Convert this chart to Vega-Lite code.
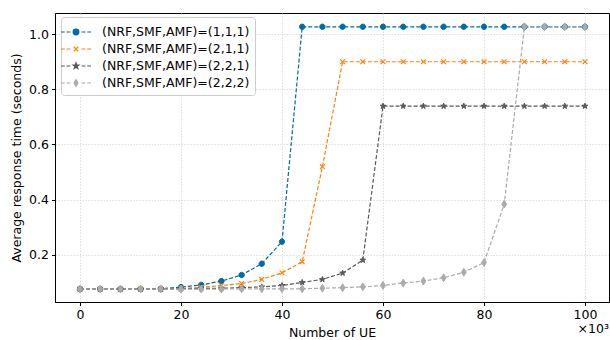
{
  "$schema": "https://vega.github.io/schema/vega-lite/v6.json",
  "width": 554,
  "height": 289,
  "autosize": "none",
  "padding": {"left": 55, "top": 13, "right": 1, "bottom": 38},
  "config": {
    "font": "DejaVu Sans",
    "view": {"stroke": "#000", "strokeWidth": 1},
    "axis": {
      "labelFont": "DejaVu Sans", "labelFontSize": 12.5, "labelColor": "#000",
      "titleFont": "DejaVu Sans", "titleFontSize": 12.5, "titleFontWeight": "normal", "titleColor": "#000",
      "domainColor": "#000", "tickColor": "#000", "tickSize": 3.5, "labelPadding": 3,
      "gridColor": "#d6d6d6", "gridDash": [1.5, 1.5], "gridWidth": 0.8
    },
    "title": {"font": "DejaVu Sans", "fontSize": 12.5, "fontWeight": "normal", "color": "#000"}
  },
  "title": {"text": "×10³", "orient": "bottom", "anchor": "end", "offset": -16},
  "data": {"values": [
    {"x":0,"y":0.075,"s":"(NRF,SMF,AMF)=(1,1,1)"},{"x":4,"y":0.075,"s":"(NRF,SMF,AMF)=(1,1,1)"},{"x":8,"y":0.075,"s":"(NRF,SMF,AMF)=(1,1,1)"},{"x":12,"y":0.075,"s":"(NRF,SMF,AMF)=(1,1,1)"},{"x":16,"y":0.076,"s":"(NRF,SMF,AMF)=(1,1,1)"},{"x":20,"y":0.082,"s":"(NRF,SMF,AMF)=(1,1,1)"},{"x":24,"y":0.09,"s":"(NRF,SMF,AMF)=(1,1,1)"},{"x":28,"y":0.104,"s":"(NRF,SMF,AMF)=(1,1,1)"},{"x":32,"y":0.126,"s":"(NRF,SMF,AMF)=(1,1,1)"},{"x":36,"y":0.167,"s":"(NRF,SMF,AMF)=(1,1,1)"},{"x":40,"y":0.247,"s":"(NRF,SMF,AMF)=(1,1,1)"},{"x":44,"y":1.027,"s":"(NRF,SMF,AMF)=(1,1,1)"},{"x":48,"y":1.027,"s":"(NRF,SMF,AMF)=(1,1,1)"},{"x":52,"y":1.027,"s":"(NRF,SMF,AMF)=(1,1,1)"},{"x":56,"y":1.027,"s":"(NRF,SMF,AMF)=(1,1,1)"},{"x":60,"y":1.027,"s":"(NRF,SMF,AMF)=(1,1,1)"},{"x":64,"y":1.027,"s":"(NRF,SMF,AMF)=(1,1,1)"},{"x":68,"y":1.027,"s":"(NRF,SMF,AMF)=(1,1,1)"},{"x":72,"y":1.027,"s":"(NRF,SMF,AMF)=(1,1,1)"},{"x":76,"y":1.027,"s":"(NRF,SMF,AMF)=(1,1,1)"},{"x":80,"y":1.027,"s":"(NRF,SMF,AMF)=(1,1,1)"},{"x":84,"y":1.027,"s":"(NRF,SMF,AMF)=(1,1,1)"},{"x":88,"y":1.027,"s":"(NRF,SMF,AMF)=(1,1,1)"},{"x":92,"y":1.027,"s":"(NRF,SMF,AMF)=(1,1,1)"},{"x":96,"y":1.027,"s":"(NRF,SMF,AMF)=(1,1,1)"},{"x":100,"y":1.027,"s":"(NRF,SMF,AMF)=(1,1,1)"},
    {"x":0,"y":0.075,"s":"(NRF,SMF,AMF)=(2,1,1)"},{"x":4,"y":0.075,"s":"(NRF,SMF,AMF)=(2,1,1)"},{"x":8,"y":0.075,"s":"(NRF,SMF,AMF)=(2,1,1)"},{"x":12,"y":0.075,"s":"(NRF,SMF,AMF)=(2,1,1)"},{"x":16,"y":0.075,"s":"(NRF,SMF,AMF)=(2,1,1)"},{"x":20,"y":0.077,"s":"(NRF,SMF,AMF)=(2,1,1)"},{"x":24,"y":0.081,"s":"(NRF,SMF,AMF)=(2,1,1)"},{"x":28,"y":0.088,"s":"(NRF,SMF,AMF)=(2,1,1)"},{"x":32,"y":0.095,"s":"(NRF,SMF,AMF)=(2,1,1)"},{"x":36,"y":0.11,"s":"(NRF,SMF,AMF)=(2,1,1)"},{"x":40,"y":0.134,"s":"(NRF,SMF,AMF)=(2,1,1)"},{"x":44,"y":0.174,"s":"(NRF,SMF,AMF)=(2,1,1)"},{"x":48,"y":0.519,"s":"(NRF,SMF,AMF)=(2,1,1)"},{"x":52,"y":0.9,"s":"(NRF,SMF,AMF)=(2,1,1)"},{"x":56,"y":0.9,"s":"(NRF,SMF,AMF)=(2,1,1)"},{"x":60,"y":0.9,"s":"(NRF,SMF,AMF)=(2,1,1)"},{"x":64,"y":0.9,"s":"(NRF,SMF,AMF)=(2,1,1)"},{"x":68,"y":0.9,"s":"(NRF,SMF,AMF)=(2,1,1)"},{"x":72,"y":0.9,"s":"(NRF,SMF,AMF)=(2,1,1)"},{"x":76,"y":0.9,"s":"(NRF,SMF,AMF)=(2,1,1)"},{"x":80,"y":0.9,"s":"(NRF,SMF,AMF)=(2,1,1)"},{"x":84,"y":0.9,"s":"(NRF,SMF,AMF)=(2,1,1)"},{"x":88,"y":0.9,"s":"(NRF,SMF,AMF)=(2,1,1)"},{"x":92,"y":0.9,"s":"(NRF,SMF,AMF)=(2,1,1)"},{"x":96,"y":0.9,"s":"(NRF,SMF,AMF)=(2,1,1)"},{"x":100,"y":0.9,"s":"(NRF,SMF,AMF)=(2,1,1)"},
    {"x":0,"y":0.075,"s":"(NRF,SMF,AMF)=(2,2,1)"},{"x":4,"y":0.075,"s":"(NRF,SMF,AMF)=(2,2,1)"},{"x":8,"y":0.075,"s":"(NRF,SMF,AMF)=(2,2,1)"},{"x":12,"y":0.075,"s":"(NRF,SMF,AMF)=(2,2,1)"},{"x":16,"y":0.075,"s":"(NRF,SMF,AMF)=(2,2,1)"},{"x":20,"y":0.076,"s":"(NRF,SMF,AMF)=(2,2,1)"},{"x":24,"y":0.077,"s":"(NRF,SMF,AMF)=(2,2,1)"},{"x":28,"y":0.078,"s":"(NRF,SMF,AMF)=(2,2,1)"},{"x":32,"y":0.08,"s":"(NRF,SMF,AMF)=(2,2,1)"},{"x":36,"y":0.083,"s":"(NRF,SMF,AMF)=(2,2,1)"},{"x":40,"y":0.088,"s":"(NRF,SMF,AMF)=(2,2,1)"},{"x":44,"y":0.099,"s":"(NRF,SMF,AMF)=(2,2,1)"},{"x":48,"y":0.11,"s":"(NRF,SMF,AMF)=(2,2,1)"},{"x":52,"y":0.133,"s":"(NRF,SMF,AMF)=(2,2,1)"},{"x":56,"y":0.18,"s":"(NRF,SMF,AMF)=(2,2,1)"},{"x":60,"y":0.739,"s":"(NRF,SMF,AMF)=(2,2,1)"},{"x":64,"y":0.739,"s":"(NRF,SMF,AMF)=(2,2,1)"},{"x":68,"y":0.739,"s":"(NRF,SMF,AMF)=(2,2,1)"},{"x":72,"y":0.739,"s":"(NRF,SMF,AMF)=(2,2,1)"},{"x":76,"y":0.739,"s":"(NRF,SMF,AMF)=(2,2,1)"},{"x":80,"y":0.739,"s":"(NRF,SMF,AMF)=(2,2,1)"},{"x":84,"y":0.739,"s":"(NRF,SMF,AMF)=(2,2,1)"},{"x":88,"y":0.739,"s":"(NRF,SMF,AMF)=(2,2,1)"},{"x":92,"y":0.739,"s":"(NRF,SMF,AMF)=(2,2,1)"},{"x":96,"y":0.739,"s":"(NRF,SMF,AMF)=(2,2,1)"},{"x":100,"y":0.739,"s":"(NRF,SMF,AMF)=(2,2,1)"},
    {"x":0,"y":0.075,"s":"(NRF,SMF,AMF)=(2,2,2)"},{"x":4,"y":0.075,"s":"(NRF,SMF,AMF)=(2,2,2)"},{"x":8,"y":0.075,"s":"(NRF,SMF,AMF)=(2,2,2)"},{"x":12,"y":0.075,"s":"(NRF,SMF,AMF)=(2,2,2)"},{"x":16,"y":0.075,"s":"(NRF,SMF,AMF)=(2,2,2)"},{"x":20,"y":0.075,"s":"(NRF,SMF,AMF)=(2,2,2)"},{"x":24,"y":0.075,"s":"(NRF,SMF,AMF)=(2,2,2)"},{"x":28,"y":0.075,"s":"(NRF,SMF,AMF)=(2,2,2)"},{"x":32,"y":0.076,"s":"(NRF,SMF,AMF)=(2,2,2)"},{"x":36,"y":0.076,"s":"(NRF,SMF,AMF)=(2,2,2)"},{"x":40,"y":0.076,"s":"(NRF,SMF,AMF)=(2,2,2)"},{"x":44,"y":0.076,"s":"(NRF,SMF,AMF)=(2,2,2)"},{"x":48,"y":0.078,"s":"(NRF,SMF,AMF)=(2,2,2)"},{"x":52,"y":0.08,"s":"(NRF,SMF,AMF)=(2,2,2)"},{"x":56,"y":0.083,"s":"(NRF,SMF,AMF)=(2,2,2)"},{"x":60,"y":0.088,"s":"(NRF,SMF,AMF)=(2,2,2)"},{"x":64,"y":0.097,"s":"(NRF,SMF,AMF)=(2,2,2)"},{"x":68,"y":0.104,"s":"(NRF,SMF,AMF)=(2,2,2)"},{"x":72,"y":0.116,"s":"(NRF,SMF,AMF)=(2,2,2)"},{"x":76,"y":0.136,"s":"(NRF,SMF,AMF)=(2,2,2)"},{"x":80,"y":0.171,"s":"(NRF,SMF,AMF)=(2,2,2)"},{"x":84,"y":0.383,"s":"(NRF,SMF,AMF)=(2,2,2)"},{"x":88,"y":1.027,"s":"(NRF,SMF,AMF)=(2,2,2)"},{"x":92,"y":1.027,"s":"(NRF,SMF,AMF)=(2,2,2)"},{"x":96,"y":1.027,"s":"(NRF,SMF,AMF)=(2,2,2)"},{"x":100,"y":1.027,"s":"(NRF,SMF,AMF)=(2,2,2)"}
  ]},
  "encoding": {
    "x": {"field": "x", "type": "quantitative", "title": "Number of UE",
      "scale": {"domain": [-4.95, 104.75], "nice": false, "zero": false},
      "axis": {"values": [0, 20, 40, 60, 80, 100], "titlePadding": 5}},
    "y": {"field": "y", "type": "quantitative", "title": "Average response time (seconds)",
      "scale": {"domain": [0.028, 1.077], "nice": false, "zero": false},
      "axis": {"values": [0.2, 0.4, 0.6, 0.8, 1.0], "format": ".1f", "titlePadding": 5}}
  },
  "layer": [
    {
      "mark": {"type": "line", "strokeDash": [4, 2], "strokeWidth": 1.2},
      "encoding": {
        "color": {"field": "s", "type": "nominal",
          "scale": {"domain": ["(NRF,SMF,AMF)=(1,1,1)", "(NRF,SMF,AMF)=(2,1,1)", "(NRF,SMF,AMF)=(2,2,1)", "(NRF,SMF,AMF)=(2,2,2)"],
                    "range": ["#006BA4", "#FF800E", "#595959", "#ABABAB"]},
          "legend": {"title": null, "orient": "none", "legendX": 6, "legendY": 4,
            "labelFont": "DejaVu Sans", "labelFontSize": 12.5, "labelColor": "#000",
            "symbolSize": 324, "labelOffset": 16, "rowPadding": 0, "padding": 5,
            "fillColor": "#ffffff", "strokeColor": "#cccccc", "cornerRadius": 3,
            "symbolStrokeWidth": 1.2,
            "encode": {"symbols": {"update": {
              "shape": {"signal": "['M-1.667,0H-1.25M-1.05,0H-0.63M0.63,0H1.05M1.25,0H1.667M0.32,0A0.32,0.32,0,1,1,-0.32,0A0.32,0.32,0,1,1,0.32,0Z','M-1.667,0H-1.25M-1.05,0H-0.63M0.63,0H1.05M1.25,0H1.667M-0.25,-0.25L0.25,0.25M-0.25,0.25L0.25,-0.25','M-1.667,0H-1.25M-1.05,0H-0.63M0.63,0H1.05M1.25,0H1.667M0,-0.34L0.08,-0.11L0.323,-0.105L0.129,0.042L0.2,0.275L0,0.136L-0.2,0.275L-0.129,0.042L-0.323,-0.105L-0.08,-0.11Z','M-1.667,0H-1.25M-1.05,0H-0.63M0.63,0H1.05M1.25,0H1.667M0,-0.37L0.22,0L0,0.37L-0.22,0Z'][datum.index]"},
              "fill": {"scale": "color", "field": "value"},
              "stroke": {"scale": "color", "field": "value"},
              "strokeWidth": {"value": 1.2},
              "opacity": {"value": 1},
              "strokeDash": {"value": []}
            }}}
          }
        }
      }
    },
    {
      "transform": [{"filter": "datum.s === '(NRF,SMF,AMF)=(1,1,1)'"}],
      "mark": {"type": "point", "filled": true, "size": 36, "strokeWidth": 1, "opacity": 1, "color": "#006BA4", "stroke": "#006BA4",
        "shape": "M0.9,0A0.9,0.9,0,1,1,-0.9,0A0.9,0.9,0,1,1,0.9,0Z"}
    },
    {
      "transform": [{"filter": "datum.s === '(NRF,SMF,AMF)=(2,1,1)'"}],
      "mark": {"type": "point", "filled": true, "size": 36, "strokeWidth": 1.2, "opacity": 1, "color": "#FF800E", "stroke": "#FF800E",
        "shape": "M-0.8,-0.8L0.8,0.8M-0.8,0.8L0.8,-0.8"}
    },
    {
      "transform": [{"filter": "datum.s === '(NRF,SMF,AMF)=(2,2,1)'"}],
      "mark": {"type": "point", "filled": true, "size": 36, "strokeWidth": 1, "opacity": 1, "color": "#595959", "stroke": "#595959",
        "shape": "M0,-1L0.235,-0.324L0.951,-0.309L0.38,0.124L0.588,0.809L0,0.4L-0.588,0.809L-0.38,0.124L-0.951,-0.309L-0.235,-0.324Z"}
    },
    {
      "transform": [{"filter": "datum.s === '(NRF,SMF,AMF)=(2,2,2)'"}],
      "mark": {"type": "point", "filled": true, "size": 36, "strokeWidth": 1, "opacity": 1, "color": "#ABABAB", "stroke": "#ABABAB",
        "shape": "M0,-1.3L0.8,0L0,1.3L-0.8,0Z"}
    }
  ]
}
